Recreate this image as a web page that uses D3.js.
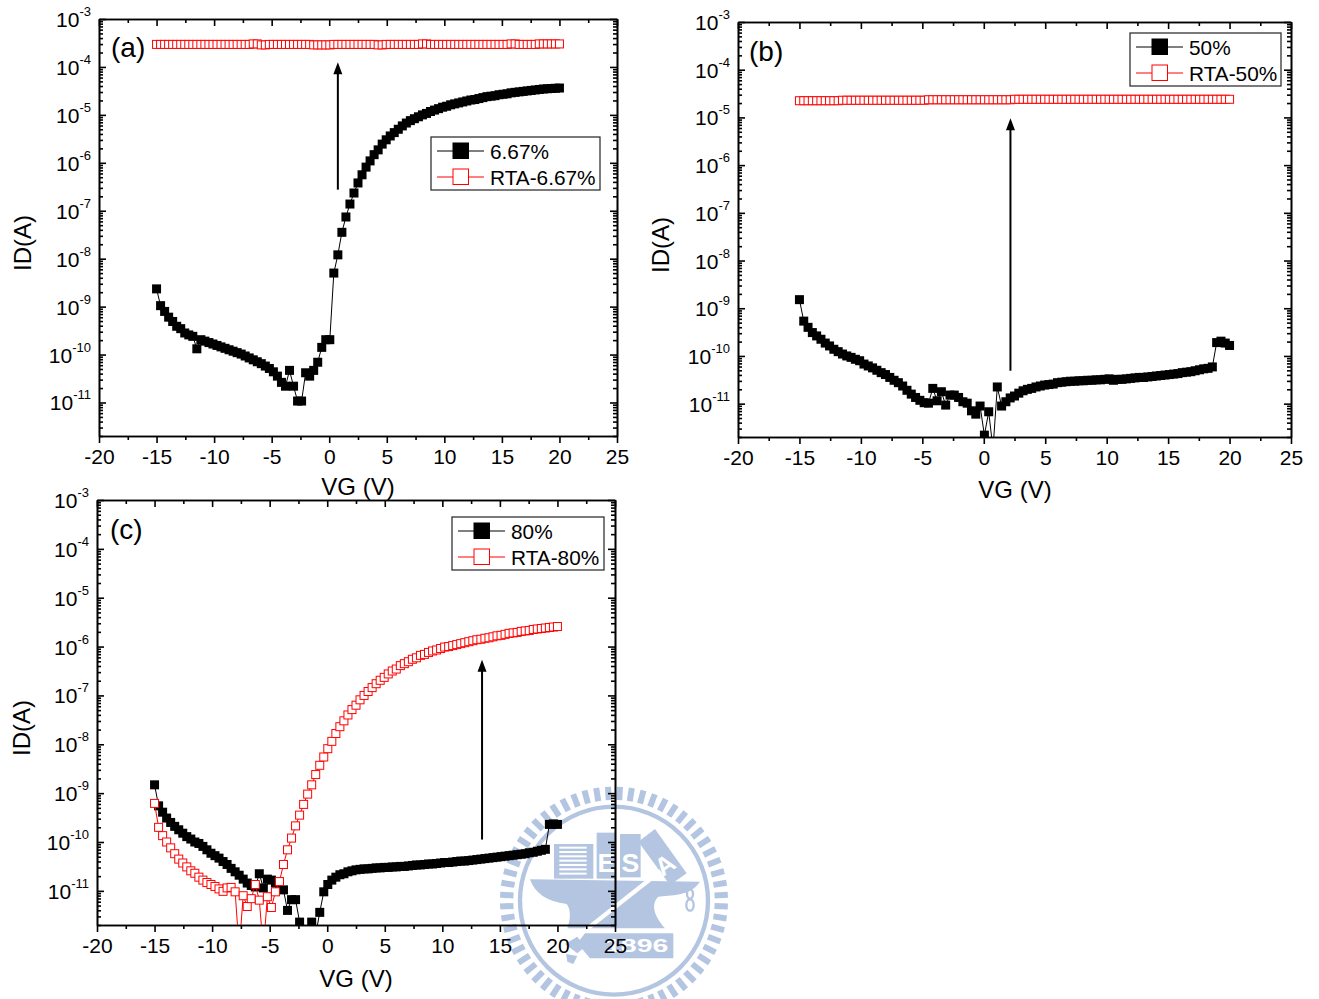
<!DOCTYPE html>
<html>
<head>
<meta charset="utf-8">
<script src="https://cdn.jsdelivr.net/npm/d3@7"></script>
<style>
html, body { margin: 0; padding: 0; background: #fff; }
svg { display: block; }
text { font-family: "Liberation Sans", Arial, sans-serif; fill: #000; }
.domain, .tick line { stroke: #000; stroke-width: 1.6; }
</style>
</head>
<body>
<div id="chart"></div>
<script>
// gate voltage sweep, same for every curve
var vg = [-15,-14.65,-14.3,-13.95,-13.6,-13.25,-12.9,-12.55,-12.2,-11.85,-11.5,-11.15,-10.8,-10.45,-10.1,-9.75,-9.4,-9.05,-8.7,-8.35,
	-8,-7.65,-7.3,-6.95,-6.6,-6.25,-5.9,-5.55,-5.2,-4.85,-4.5,-4.15,-3.8,-3.45,-3.1,-2.75,-2.4,-2.05,-1.7,-1.35,
	-1,-0.65,-0.3,0.05,0.4,0.75,1.1,1.45,1.8,2.15,2.5,2.85,3.2,3.55,3.9,4.25,4.6,4.95,5.3,5.65,
	6,6.35,6.7,7.05,7.4,7.75,8.1,8.45,8.8,9.15,9.5,9.85,10.2,10.55,10.9,11.25,11.6,11.95,12.3,12.65,
	13,13.35,13.7,14.05,14.4,14.75,15.1,15.45,15.8,16.15,16.5,16.85,17.2,17.55,17.9,18.25,18.6,18.95,19.3,19.65,20];

// all currents below are log10(ID)
var logA667 = [-8.63,-8.98,-9.10,-9.22,-9.31,-9.41,-9.46,-9.55,-9.59,-9.62,-9.88,-9.69,
	-9.72,-9.75,-9.78,-9.81,-9.84,-9.87,-9.90,-9.93,-9.96,-9.99,-10.03,-10.07,-10.11,-10.15,-10.19,-10.24,-10.29,-10.36,-10.45,
	-10.58,-10.66,-10.33,-10.66,-10.97,-10.97,-10.38,-10.45,-10.33,-10.16,-9.85,-9.69,-9.69,
	-8.30,-7.92,-7.45,-7.13,-6.86,-6.63,-6.42,-6.25,-6.09,-5.96,-5.83,-5.73,-5.61,-5.52,-5.44,-5.37,-5.30,-5.23,-5.17,-5.12,
	-5.08,-5.04,-5.00,-4.97,-4.93,-4.90,-4.87,-4.84,-4.82,-4.79,-4.77,-4.75,-4.73,-4.71,-4.69,-4.68,-4.66,-4.64,-4.62,-4.61,-4.60,-4.58,
	-4.57,-4.56,-4.54,-4.53,-4.52,-4.51,-4.50,-4.49,-4.48,-4.47,-4.46,-4.455,-4.45,-4.445,-4.44];

var logARta667 = [-3.53,-3.53,-3.53,-3.53,-3.53,-3.53,-3.53,-3.53,-3.53,-3.53,-3.53,-3.53,-3.53,-3.53,-3.53,-3.53,-3.53,-3.53,-3.53,-3.53,
	-3.53,-3.53,-3.53,-3.53,-3.52,-3.52,-3.54,-3.54,-3.53,-3.53,-3.53,-3.53,-3.53,-3.53,-3.53,-3.53,-3.53,-3.53,-3.53,-3.54,
	-3.54,-3.54,-3.54,-3.54,-3.53,-3.53,-3.53,-3.53,-3.53,-3.53,-3.53,-3.53,-3.53,-3.53,-3.53,-3.54,-3.54,-3.53,-3.53,-3.53,
	-3.53,-3.53,-3.53,-3.53,-3.53,-3.53,-3.52,-3.52,-3.53,-3.53,-3.53,-3.53,-3.53,-3.53,-3.53,-3.53,-3.53,-3.53,-3.53,-3.53,
	-3.53,-3.53,-3.53,-3.53,-3.53,-3.53,-3.53,-3.53,-3.52,-3.52,-3.53,-3.53,-3.53,-3.53,-3.53,-3.52,-3.52,-3.52,-3.52,-3.52,-3.52];

var logB50 = [-8.82,-9.27,-9.40,-9.51,-9.58,-9.65,-9.73,-9.79,-9.86,-9.91,-9.96,-10.00,-10.03,-10.07,-10.10,-10.17,-10.21,-10.25,-10.30,-10.35,
	-10.39,-10.45,-10.51,-10.56,-10.63,-10.72,-10.80,-10.87,-10.93,-10.98,-10.99,-10.68,-10.94,-10.75,-11.03,-10.82,-10.82,-10.87,-10.96,-10.99,
	-11.15,-11.22,-11.05,-11.66,-11.17,-11.95,-10.65,-11.05,-10.96,-10.88,-10.84,-10.78,-10.73,-10.70,-10.68,-10.65,-10.63,-10.61,-10.60,-10.59,
	-10.56,-10.55,-10.54,-10.53,-10.53,-10.52,-10.52,-10.51,-10.51,-10.50,-10.50,-10.49,-10.48,-10.51,-10.49,-10.49,-10.48,-10.47,-10.46,-10.45,
	-10.45,-10.44,-10.43,-10.42,-10.41,-10.40,-10.39,-10.38,-10.37,-10.35,-10.34,-10.33,-10.31,-10.29,-10.27,-10.26,-10.23,-9.72,-9.69,-9.73,-9.78];

var logBRta50 = [-4.65,-4.65,-4.65,-4.65,-4.65,-4.65,-4.65,-4.65,-4.65,-4.65,-4.64,-4.64,-4.64,-4.64,-4.64,-4.64,-4.64,-4.64,-4.64,-4.64,
	-4.64,-4.64,-4.64,-4.64,-4.64,-4.64,-4.64,-4.64,-4.64,-4.64,-4.63,-4.63,-4.63,-4.63,-4.63,-4.63,-4.63,-4.63,-4.63,-4.63,
	-4.63,-4.63,-4.63,-4.63,-4.63,-4.63,-4.63,-4.63,-4.63,-4.63,-4.62,-4.62,-4.62,-4.62,-4.62,-4.62,-4.62,-4.62,-4.62,-4.62,
	-4.62,-4.62,-4.62,-4.62,-4.62,-4.62,-4.62,-4.62,-4.62,-4.62,-4.62,-4.62,-4.62,-4.62,-4.62,-4.62,-4.62,-4.62,-4.62,-4.62,
	-4.62,-4.62,-4.62,-4.62,-4.62,-4.62,-4.62,-4.62,-4.62,-4.62,-4.62,-4.62,-4.62,-4.62,-4.62,-4.62,-4.62,-4.62,-4.62,-4.62,-4.62];

var logC80 = [-8.83,-9.26,-9.39,-9.51,-9.60,-9.68,-9.75,-9.82,-9.89,-9.94,-10.00,-10.03,-10.09,-10.16,-10.23,-10.28,-10.33,-10.40,-10.46,-10.54,
	-10.61,-10.68,-10.76,-10.84,-10.89,-10.92,-10.65,-10.94,-10.76,-10.78,-10.84,-10.91,-10.98,-11.40,-11.18,-11.18,-11.64,-11.9,-11.9,-11.64,
	-11.9,-11.44,-11.02,-10.87,-10.78,-10.72,-10.67,-10.65,-10.61,-10.59,-10.57,-10.56,-10.55,-10.55,-10.54,-10.53,-10.53,-10.52,-10.52,-10.51,
	-10.51,-10.50,-10.50,-10.49,-10.48,-10.47,-10.47,-10.46,-10.45,-10.45,-10.44,-10.43,-10.42,-10.42,-10.41,-10.40,-10.39,-10.39,-10.38,-10.37,
	-10.36,-10.35,-10.34,-10.33,-10.32,-10.31,-10.30,-10.29,-10.28,-10.27,-10.26,-10.25,-10.24,-10.22,-10.21,-10.19,-10.17,-10.15,-9.64,-9.63,-9.64];

var logCRta80 = [-9.21,-9.70,-9.87,-10.00,-10.12,-10.24,-10.35,-10.43,-10.51,-10.59,-10.64,-10.72,-10.78,-10.83,-10.87,-10.91,-10.96,-11.01,-10.94,-10.93,
	-11.02,-12.2,-11.10,-11.32,-11.16,-10.87,-11.19,-12.2,-11.12,-11.34,-11.02,-10.81,-10.46,-10.16,-9.92,-9.67,-9.45,-9.23,-9.02,-8.83,
	-8.62,-8.43,-8.26,-8.09,-7.94,-7.78,-7.64,-7.52,-7.40,-7.29,-7.20,-7.09,-7.00,-6.92,-6.84,-6.76,-6.69,-6.63,-6.56,-6.50,
	-6.46,-6.39,-6.35,-6.31,-6.26,-6.23,-6.18,-6.16,-6.12,-6.09,-6.07,-6.04,-6.01,-6.00,-5.98,-5.96,-5.94,-5.92,-5.90,-5.88,
	-5.86,-5.85,-5.83,-5.82,-5.80,-5.78,-5.77,-5.75,-5.73,-5.72,-5.71,-5.69,-5.68,-5.67,-5.65,-5.64,-5.63,-5.62,-5.61,-5.60,-5.59];

var xMajor = [-20,-15,-10,-5,0,5,10,15,20,25];
var xMinor = [-17.5,-12.5,-7.5,-2.5,2.5,7.5,12.5,17.5,22.5];
var decades = [-3,-4,-5,-6,-7,-8,-9,-10,-11];

var svg = d3.select("#chart").append("svg")
	.attr("width", 1319)
	.attr("height", 999);

drawSeal();

// minor ticks for the log axis: 2..9 in every decade
var yMinor = [];
d3.range(-12, -3).forEach(function(e) {
	d3.range(2, 10).forEach(function(m) {
		if (m * Math.pow(10, e) >= 2e-12) yMinor.push(m * Math.pow(10, e));
	});
});

drawPanel({
	id: "a", left: 99, right: 617, top: 19, bottom: 436,
	black: logA667, red: logARta667, names: ["6.67%", "RTA-6.67%"],
	arrow: [0.75, -6.56, -3.9],
	tag: [111, 57], xLabel: [358, 495], yLabel: [31, 243],
	box: [431, 137, 169, 53]
});
drawPanel({
	id: "b", left: 738, right: 1291, top: 22, bottom: 437,
	black: logB50, red: logBRta50, names: ["50%", "RTA-50%"],
	arrow: [2.17, -10.31, -5.02],
	tag: [749, 61], xLabel: [1015, 498], yLabel: [669, 245],
	box: [1130, 33, 151, 53]
});
drawPanel({
	id: "c", left: 97, right: 615, top: 500, bottom: 925,
	black: logC80, red: logCRta80, names: ["80%", "RTA-80%"],
	arrow: [13.45, -9.95, -6.27],
	tag: [110, 539], xLabel: [356, 987], yLabel: [30, 728],
	box: [452, 517, 152, 53]
});

function drawPanel(p) {
	var x = d3.scaleLinear().domain([-20, 25]).range([p.left, p.right]);
	var y = d3.scaleLog().domain([2e-12, 1e-3]).range([p.bottom, p.top]);

	var g = svg.append("g").attr("class", "panel-" + p.id);

	g.append("clipPath").attr("id", "clip-" + p.id)
		.append("rect")
		.attr("x", p.left)
		.attr("y", p.top)
		.attr("width", p.right - p.left)
		.attr("height", p.bottom - p.top);

	// bottom and left carry the labels, top and right are just mirrored ticks
	var bottom = g.append("g").attr("transform", "translate(0," + p.bottom + ")")
		.call(d3.axisBottom(x).tickValues(xMajor).tickSize(7).tickSizeOuter(0).tickFormat(""));
	bottom.selectAll(".tick").append("text")
		.attr("y", 28)
		.attr("text-anchor", "middle")
		.style("font-size", "21px")
		.text(function(d) { return d; });
	g.append("g").attr("transform", "translate(0," + p.bottom + ")")
		.call(d3.axisBottom(x).tickValues(xMinor).tickSize(4).tickSizeOuter(0).tickFormat(""));

	g.append("g").attr("transform", "translate(0," + p.top + ")")
		.call(d3.axisTop(x).tickValues(xMajor).tickSize(-7).tickSizeOuter(0).tickFormat(""));
	g.append("g").attr("transform", "translate(0," + p.top + ")")
		.call(d3.axisTop(x).tickValues(xMinor).tickSize(-4).tickSizeOuter(0).tickFormat(""));

	var majors = decades.map(function(e) { return Math.pow(10, e); });
	var left = g.append("g").attr("transform", "translate(" + p.left + ",0)")
		.call(d3.axisLeft(y).tickValues(majors).tickSize(-7).tickSizeOuter(0).tickFormat(""));
	var lab = left.selectAll(".tick").append("text")
		.attr("x", -8)
		.attr("y", 7.5)
		.attr("text-anchor", "end")
		.style("font-size", "21px");
	lab.append("tspan").text("10");
	lab.append("tspan")
		.attr("dy", -11)
		.style("font-size", "13px")
		.text(function(d) { return Math.round(Math.log10(d)); });
	g.append("g").attr("transform", "translate(" + p.left + ",0)")
		.call(d3.axisLeft(y).tickValues(yMinor).tickSize(-4).tickSizeOuter(0).tickFormat(""));

	g.append("g").attr("transform", "translate(" + p.right + ",0)")
		.call(d3.axisRight(y).tickValues(majors).tickSize(-7).tickSizeOuter(0).tickFormat(""));
	g.append("g").attr("transform", "translate(" + p.right + ",0)")
		.call(d3.axisRight(y).tickValues(yMinor).tickSize(-4).tickSizeOuter(0).tickFormat(""));

	g.append("text")
		.attr("x", p.xLabel[0])
		.attr("y", p.xLabel[1])
		.attr("text-anchor", "middle")
		.style("font-size", "24px")
		.text("VG (V)");
	g.append("text")
		.attr("transform", "translate(" + p.yLabel[0] + "," + p.yLabel[1] + ") rotate(-90)")
		.attr("text-anchor", "middle")
		.style("font-size", "24px")
		.text("ID(A)");
	g.append("text")
		.attr("x", p.tag[0])
		.attr("y", p.tag[1])
		.style("font-size", "28px")
		.text("(" + p.id + ")");

	var plot = g.append("g").attr("clip-path", "url(#clip-" + p.id + ")");
	drawSeries(plot, x, y, p.black, "#000", "#000");
	drawSeries(plot, x, y, p.red, "#f00", "#fff");

	// arrow between the two curves
	var ax = x(p.arrow[0]), y0 = y(Math.pow(10, p.arrow[1])), y1 = y(Math.pow(10, p.arrow[2]));
	g.append("line")
		.attr("x1", ax).attr("x2", ax)
		.attr("y1", y0).attr("y2", y1 + 6)
		.attr("stroke", "#000")
		.attr("stroke-width", 2);
	g.append("path")
		.attr("d", "M" + ax + "," + y1 + "l4.5,12h-9z")
		.attr("fill", "#000");

	// legend
	var b = p.box;
	g.append("rect")
		.attr("x", b[0]).attr("y", b[1])
		.attr("width", b[2]).attr("height", b[3])
		.attr("fill", "#fff")
		.attr("stroke", "#333")
		.attr("stroke-width", 1.3);
	[0, 1].forEach(function(i) {
		var col = i == 0 ? "#000" : "#f00";
		var cy = b[1] + 14 + i * 26;
		g.append("line")
			.attr("x1", b[0] + 6).attr("x2", b[0] + 53)
			.attr("y1", cy).attr("y2", cy)
			.attr("stroke", col)
			.attr("stroke-width", 1);
		g.append("rect")
			.attr("x", b[0] + 22).attr("y", cy - 8)
			.attr("width", 15.5).attr("height", 15.5)
			.attr("fill", i == 0 ? "#000" : "#fff")
			.attr("stroke", col)
			.attr("stroke-width", 1);
		g.append("text")
			.attr("x", b[0] + 59)
			.attr("y", cy + 7.5)
			.style("font-size", "20.8px")
			.text(p.names[i]);
	});
}

function drawSeries(plot, x, y, vals, stroke, fill) {
	var pts = vals.map(function(v, i) { return [vg[i], Math.pow(10, v)]; });
	var line = d3.line()
		.x(function(d) { return x(d[0]); })
		.y(function(d) { return y(d[1]); });

	plot.append("path")
		.attr("d", line(pts))
		.attr("fill", "none")
		.attr("stroke", stroke)
		.attr("stroke-width", 1);

	var size = fill == "#fff" ? 8 : 9;
	plot.selectAll(null)
		.data(pts)
		.enter()
		.append("rect")
		.attr("x", function(d) { return x(d[0]) - size / 2; })
		.attr("y", function(d) { return y(d[1]) - size / 2; })
		.attr("width", size)
		.attr("height", size)
		.attr("fill", fill)
		.attr("stroke", fill == "#fff" ? stroke : "none")
		.attr("stroke-width", 1);
}

// university seal behind panel (c), units are 3x crop pixels
function drawSeal() {
	var blue = "#b3c5e1";
	var s = svg.append("g").attr("transform", "translate(490,780) scale(0.3333)");

	s.selectAll(null)
		.data(d3.range(60))
		.enter()
		.append("line")
		.attr("x1", 372).attr("x2", 372)
		.attr("y1", 362 - 342).attr("y2", 362 - 302)
		.attr("transform", function(d) { return "rotate(" + (d * 6 + 3) + ",372,362)"; })
		.attr("stroke", blue)
		.attr("stroke-width", 18);
	s.append("circle")
		.attr("cx", 372).attr("cy", 362).attr("r", 282)
		.attr("fill", "none")
		.attr("stroke", blue)
		.attr("stroke-width", 13);

	// anvil
	s.append("path")
		.attr("d", "M120,298L630,305C600,350 540,345 505,350C480,375 495,410 525,445L232,445C245,410 240,385 230,372C170,365 135,340 120,298Z")
		.attr("fill", blue);
	// book
	s.append("rect").attr("x", 192).attr("y", 192).attr("width", 118).attr("height", 104).attr("fill", blue);
	s.selectAll(null)
		.data(d3.range(7))
		.enter()
		.append("rect")
		.attr("x", 208).attr("width", 82)
		.attr("y", function(d) { return 200 + d * 13; })
		.attr("height", 6)
		.attr("fill", "#fff");
	// E S A blocks
	s.append("rect").attr("x", 320).attr("y", 158).attr("width", 58).attr("height", 138).attr("fill", blue);
	s.append("rect").attr("x", 390).attr("y", 162).attr("width", 62).attr("height", 130).attr("fill", blue);
	s.append("path").attr("d", "M495,147L590,280L540,315L445,185Z").attr("fill", blue);
	s.append("text").attr("x", 349).attr("y", 275).attr("text-anchor", "middle")
		.style("font-size", "80px").style("font-weight", "bold").style("fill", "#fff").text("E");
	s.append("text").attr("x", 421).attr("y", 275).attr("text-anchor", "middle")
		.style("font-size", "80px").style("font-weight", "bold").style("fill", "#fff").text("S");
	s.append("text").attr("transform", "translate(540,276) rotate(-35)").attr("text-anchor", "middle")
		.style("font-size", "76px").style("font-weight", "bold").style("fill", "#fff").text("A");
	// hammer handle, thin white line with the blue shaft under it
	s.append("path").attr("d", "M508,268L516,278L240,495L205,522L198,512Z").attr("fill", "#fff");
	s.append("path").attr("d", "M225,492L262,470L285,500L262,520Z").attr("fill", blue);
	s.append("path").attr("d", "M228,522L262,528L250,552L232,545Z").attr("fill", blue);
	// banner
	s.append("path").attr("d", "M285,460L550,460L550,535L300,535L262,490Z").attr("fill", blue);
	s.append("text").attr("x", 440).attr("y", 516)
		.attr("text-anchor", "middle")
		.attr("textLength", 190)
		.attr("lengthAdjust", "spacingAndGlyphs")
		.style("font-size", "54px").style("font-weight", "bold").style("fill", "#fff").text("1896");
	// little ring hanging on the anvil
	s.append("ellipse").attr("cx", 600).attr("cy", 375).attr("rx", 11).attr("ry", 17)
		.attr("fill", "none").attr("stroke", blue).attr("stroke-width", 7);
	s.append("ellipse").attr("cx", 600).attr("cy", 342).attr("rx", 9).attr("ry", 14)
		.attr("fill", "none").attr("stroke", blue).attr("stroke-width", 7);
}
</script>
</body>
</html>
